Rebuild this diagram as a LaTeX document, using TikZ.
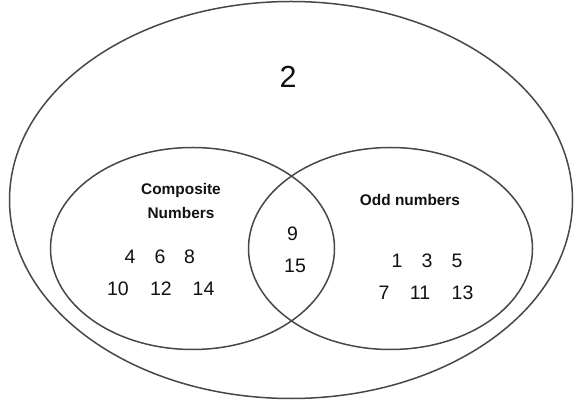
\documentclass[tikz,border=0pt]{standalone}
\usepackage{fontspec}
\setmainfont{Liberation Sans}
\usetikzlibrary{positioning}
\definecolor{vennInk}{HTML}{111111}
\definecolor{vennLine}{HTML}{474747}
\tikzset{
  vennSet/.style={draw=vennLine, line width=1.5pt},
  vennNum/.style={font=\fontsize{19.5}{23}\selectfont, text=vennInk, inner sep=0pt},
  vennBig/.style={font=\fontsize{30.5}{36}\selectfont, text=vennInk, inner sep=0pt},
  vennTitle/.style={font=\fontsize{15.4}{23.4}\selectfont\bfseries, text=vennInk,
    align=center, inner sep=0pt}
}

\begin{document}
\begin{tikzpicture}[x=1pt, y=-1pt]
    \useasboundingbox (0,0) rectangle (583,411);

    % universe and the two sets
    \draw[vennSet] (291,200) ellipse [x radius=281.5, y radius=198.5];
    \draw[vennSet] (192.5,248.5) ellipse [x radius=142, y radius=101];
    \draw[vennSet] (390.5,248.5) ellipse [x radius=142, y radius=101];

    % outside both sets
    \node[vennBig] (two) at (288,77) {2};

    % set titles
    \node[vennTitle] (composite) at (181,201) {Composite\\Numbers};
    \node[vennTitle] (odd) at (410,200) {Odd numbers};

    % composite only
    \foreach \n/\x in {4/130, 6/160, 8/189.5}
      \node[vennNum] (c\n) at (\x,257) {\n};
    \foreach \n/\x in {10/118, 12/161, 14/203.5}
      \node[vennNum] (c\n) at (\x,288.5) {\n};

    % both
    \node[vennNum] (b9) at (292.5,234) {9};
    \node[vennNum] (b15) at (295,266) {15};

    % odd only
    \foreach \n/\x in {1/397, 3/427, 5/457}
      \node[vennNum] (o\n) at (\x,261) {\n};
    \foreach \n/\x in {7/384, 11/420, 13/462.5}
      \node[vennNum] (o\n) at (\x,293) {\n};
  \end{tikzpicture}
\end{document}
